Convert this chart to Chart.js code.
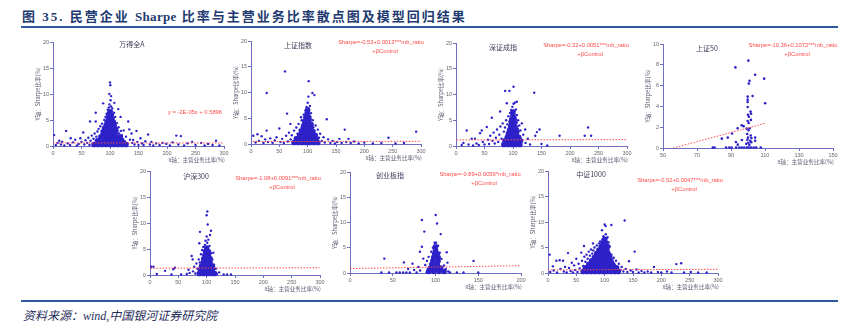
<!DOCTYPE html>
<html>
<head>
<meta charset="utf-8">
<script src="https://cdn.jsdelivr.net/npm/chart.js@4"></script>
<style>
  body { margin: 0; background: #fff; }
  #page { position: relative; width: 858px; height: 327px; overflow: hidden; background: #fff; }
  #title { position: absolute; left: 22px; top: 6px; font: bold 13px "Liberation Serif", "Noto Sans CJK SC"; letter-spacing: 2px; color: #1e3a70; white-space: nowrap; }
  #title span { letter-spacing: 0.3px; }
  .rule { position: absolute; left: 21px; width: 817px; height: 2px; background: #2e5a9c; }
  #src { position: absolute; left: 23px; top: 306px; font: italic 12px "Liberation Serif", "Noto Sans CJK SC"; color: #1f2d5a; white-space: nowrap; }
  canvas { position: absolute; }
</style>
</head>
<body>
<div id="page">
  <div id="title">图 35. 民营企业 <span>Sharpe</span> 比率与主营业务比率散点图及模型回归结果</div>
  <div class="rule" style="top:26px"></div>
  <div class="rule" style="top:300px"></div>
  <div id="src">资料来源：wind,中国银河证券研究院</div>
</div>
<script>
// 万得全A
const wdqaCore = [[72,0.3],[79,0.3],[86,0.3],[93,0.3],[100,0.3],[107,0.3],[114,0.3],[121,0.3],[128,0.3],
  [78,1.0],[85,1.0],[92,1.0],[99,1.0],[106,1.0],[113,1.0],[120,1.0],
  [84,1.7],[91,1.7],[98,1.7],[105,1.7],[112,1.7],[118,1.7],
  [88,2.4],[95,2.4],[102,2.4],[109,2.4],[90,3.1],[97,3.1],[104,3.1],[110,3.1],
  [93,3.8],[100,3.8],[107,3.8],[95,4.5],[101,4.5],[106,4.5],[97,5.2],[103,5.2],[98,5.9],[102,5.9],[100,6.6]];
const wdqaPts = [[2,2.1],[5,0.2],[8,0.6],[11,1.0],[14,0.3],[16,0.8],[20,0.1],[23,2.9],[26,0.5],[30,0.2],[31,1.5],[35,0.7],
  [39,1.2],[42,0.1],[45,0.4],[48,1.5],[50,0.8],[53,2.6],[55,0.3],[57,1.1],[60,0.6],[62,1.6],[64,0.2],[65,4.7],[66,1.0],
  [68,2.0],[70,0.5],[71,1.4],[73,2.4],[75,6.4],[75,4.7],[76,1.8],[78,2.8],[80,3.3],[82,2.0],[83,3.8],[85,2.9],[86,4.3],
  [88,8.2],[88,3.6],[90,5.0],[91,4.2],[92,5.6],[93,3.4],[94,6.2],[95,5.4],[96,7.0],[97,6.4],[98,7.4],[98.8,10.0],[99,8.0],
  [100,12.2],[100.6,11.7],[101,8.8],[102,9.6],[102,7.6],[103,6.7],[104,7.2],[105,6.0],[106,5.2],[107,6.4],[107.6,8.3],
  [108,4.8],[109,5.6],[110,4.0],[111,3.4],[112,4.4],[113,2.8],[114.5,7.1],[115,3.6],[116,2.4],[117,1.4],[118.6,5.6],
  [119,2.9],[121,2.1],[123,1.3],[124,3.0],[126,0.9],[128,1.8],[130,0.5],[132,4.7],[133.7,3.2],[135,1.2],[137.8,2.4],
  [139,0.6],[140.7,1.15],[143,0.3],[146.5,2.9],[148,0.8],[150,0.2],[153.5,1.5],[156,0.5],[159,0.2],[162,0.9],[166.9,2.2],
  [170,0.3],[172.7,0.8],[176,0.1],[181,0.5],[187,0.2],[192,0.6],[198.8,0.4],[205,0.1],[210,0.7],[216.3,2.0],[220,0.3],
  [224.4,1.9],[230,0.1],[236,0.5],[244,0.8],[250,0.2],[259.9,0.6],[266,0.1],[272,0.4],[280,0.2],[286,1.0],[292,0.1]];
const wdqaFit = [[0,0.5896],[298,0.5836]];

// 上证指数
const szzsCore = [[76,0.3],[83,0.3],[90,0.3],[97,0.3],[104,0.3],[111,0.3],[118,0.3],
  [80,1.0],[87,1.0],[94,1.0],[101,1.0],[108,1.0],[115,1.0],[86,1.7],[93,1.7],[100,1.7],[107,1.7],[113,1.7],
  [89,2.4],[96,2.4],[103,2.4],[109,2.4],[92,3.1],[99,3.1],[105,3.1],[94,3.8],[100,3.8],[106,3.8],
  [96,4.5],[102,4.5],[97,5.2],[102,5.2],[99,5.9],[100,6.6]];
const szzsPts = [[4,1.6],[8,0.3],[11.4,1.9],[14,0.6],[18.8,1.5],[22,0.2],[25,0.9],[27.7,2.6],[27.7,9.9],[30,0.4],[34,1.1],
  [38,0.2],[42,0.7],[45,1.3],[50,3.0],[52,0.4],[55,1.0],[58,0.2],[60,14.1],[62,1.6],[63.6,5.9],[65,0.5],[67,2.2],[69.5,3.9],
  [70,0.9],[72,1.7],[74,0.3],[76,2.6],[78,1.2],[80,3.2],[82,2.0],[84,3.9],[86,2.8],[88.3,5.2],[89.5,4.6],[90,3.6],[92,4.4],
  [93,5.7],[95,4.9],[96,6.5],[97,5.5],[98,7.2],[99,6.1],[100,8.0],[101.3,9.2],[101.9,12.2],[102,6.9],[103,5.9],[104,7.4],
  [105,4.8],[106,6.0],[107,3.9],[108.4,9.9],[109,4.6],[110,3.2],[111.9,9.5],[112,2.6],[114,3.6],[116,1.8],[118,2.8],[120,1.2],
  [122,2.0],[125,0.6],[128,1.3],[130,0.3],[133.7,4.8],[136,0.9],[140,0.2],[144,0.6],[148,0.1],[152,0.4],[156,1.0],[160,0.2],
  [165.5,2.8],[168,0.4],[172,1.0],[176,0.2],[182,0.5],[190,0.1],[200,0.3],[215,0.1],[230,0.2],[242.6,1.2],[255,0.1],
  [270,0.2],[291.5,2.4]];
const szzsFit = [[3,0.48],[300,0.52]];

// 深证成指
const szczCore = [[84,0.3],[91,0.3],[98,0.3],[105,0.3],[112,0.3],[86,1.0],[93,1.0],[100,1.0],[107,1.0],[113,1.0],
  [90,1.7],[97,1.7],[104,1.7],[110,1.7],[92,2.4],[99,2.4],[106,2.4],[94,3.1],[100,3.1],[106,3.1],
  [96,3.8],[102,3.8],[97,4.5],[103,4.5],[98,5.2],[102,5.2],[100,5.9],[100,6.6]];
const szczPts = [[10,0.2],[13,0.6],[18.8,3.0],[22,0.3],[27.6,1.4],[30,0.1],[33.4,1.4],[36,0.5],[40,0.2],[42.2,2.5],[45.2,3.0],
  [47,0.8],[50,0.3],[54,3.7],[56,1.2],[58,0.4],[60,2.0],[62.8,5.5],[64,1.0],[66,2.6],[68,0.5],[70,1.6],[72,3.2],[74,0.8],
  [76,2.2],[77.4,6.7],[78,3.8],[80,1.4],[82,4.4],[84,2.8],[86.2,10.7],[86,3.6],[88,5.0],[89.1,8.3],[90,4.2],[92,5.8],
  [93.8,10.7],[94,4.8],[95,6.4],[96,5.3],[97,7.0],[98,6.0],[99,7.6],[100.9,11.5],[101,8.2],[102,6.8],[103.2,8.4],[104,5.6],
  [105,7.1],[106.7,8.6],[106,4.6],[107,6.0],[108,3.8],[109,5.0],[110,2.8],[111,4.0],[112,1.8],[113,3.0],[115.5,4.4],[116,1.0],
  [118,2.2],[121.4,3.2],[122,0.6],[126,1.4],[130,0.3],[137.2,10.35],[139,2.0],[142,2.7],[146.6,3.2],[150,0.4],[160,0.1],
  [181.8,2.0],[225.8,2.0],[231.7,3.6],[237,2.0]];
const szczFit = [[1,1.18],[300,1.24]];

// 上证50
const sz50Pts = [[100.2,8.4],[92.6,7.75],[104.2,7.05],[109.5,6.67],[100.9,6.47],[100.5,6.19],[102.7,5.0],[99.8,4.94],
  [99.8,4.65],[99.8,4.42],[110.1,4.3],[99.8,3.94],[101.5,3.5],[101.8,3.3],[100,3.2],[100.5,3.0],[99.8,2.6],[101.7,2.7],
  [100.4,2.4],[96.3,2.18],[97.4,2.1],[99.2,1.86],[101,1.9],[93.9,1.9],[100.3,1.7],[90.6,1.4],[99.5,1.35],[101.6,1.2],
  [88.1,1.0],[84.6,0.9],[100,1.0],[102,0.95],[104.2,1.0],[99.6,0.8],[101.3,0.7],[104.2,0.7],[96.4,0.77],[92.9,0.58],
  [100.2,0.5],[101.9,0.55],[99,0.4],[94,0.32],[100.8,0.3],[79.3,0.05],[80.3,0.05],[87.1,0.05],[89,0.05],[90.4,0.05],
  [93,0.05],[94.9,0.05],[96.3,0.05],[97.8,0.05],[99.4,0.05],[100.3,0.05],[101.7,0.05],[103.3,0.05],[104.8,0.05],[107.5,0.05]];
const sz50Fit = [[56,0],[110,2.37]];

// 沪深300
const hs300Core = [[87,0.3],[94,0.3],[101,0.3],[108,0.3],[114,0.3],[89,1.0],[96,1.0],[103,1.0],[110,1.0],
  [91,1.7],[98,1.7],[105,1.7],[110,1.7],[94,2.4],[100,2.4],[106,2.4],[95,3.1],[101,3.1],[106,3.1],
  [97,3.8],[103,3.8],[98,4.5],[103,4.5],[100,5.2]];
const hs300Pts = [[2,1.6],[5.9,1.6],[12,0.2],[26.5,0.8],[38,0.1],[41,1.1],[44,1.4],[55,0.1],[65,0.2],[68,1.0],[70,0.4],
  [73.5,3.65],[75.3,3.0],[76,0.7],[78,1.6],[80,0.3],[82,2.2],[84,1.2],[86,3.0],[87,6.1],[88.2,8.3],[88,2.4],[90,4.0],[91,1.8],
  [92,4.8],[93,3.2],[94,5.4],[95,2.6],[96,4.6],[97,5.8],[98,6.6],[99,4.2],[100,11.5],[101.2,12.2],[101.8,9.7],[100,7.4],
  [101,6.2],[102,5.0],[103,6.8],[104,4.4],[105,5.6],[105.9,7.7],[107.6,8.5],[106,3.6],[107,2.4],[108,4.2],[109,1.4],
  [110,3.0],[111.8,4.3],[112,1.0],[113,2.0],[114,0.4],[116,1.2],[118,0.2],[122,0.5],[130,0.1],[136,0.1],[143,0.1]];
const hs300Fit = [[1,1.3],[299,1.4]];

// 创业板指
const cybzCore = [[92,0.3],[98,0.3],[104,0.3],[110,0.3],[94,1.0],[100,1.0],[106,1.0],[96,1.7],[102,1.7],
  [97,2.4],[103,2.4],[98,3.1],[103,3.1],[99,3.8],[102,3.8],[100,4.5],[100,5.2]];
const cybzPts = [[36.7,0.1],[40.2,2.85],[45.7,0.1],[54.3,0.1],[58.2,0.1],[62.2,0.1],[63,2.1],[66,0.1],[68,0.8],[70,0.1],
  [73.1,1.85],[75,0.6],[77.9,0.1],[80,1.2],[81.8,4.2],[82,0.5],[84.1,10.5],[84.1,5.2],[85.7,2.85],[86.9,8.2],[88,1.6],
  [89.6,0.1],[90,2.4],[91,0.8],[92,3.2],[93.5,0.1],[94,1.8],[95,4.2],[96,2.6],[97,5.0],[98,3.4],[99,6.0],[100.2,11.5],
  [100.6,6.0],[101.8,9.8],[101,4.8],[102,3.6],[103,5.4],[104,2.2],[105,4.0],[106.1,7.7],[106,1.0],[107,2.8],[108,0.4],
  [110,1.5],[112,0.8],[113.1,4.1],[114,2.05],[115,0.3],[117,0.1],[125,0.1],[132.8,0.1],[144.5,2.4],[150,0.1]];
const cybzFit = [[0,0.88],[200,1.45]];

// 中证1000
const zz1000Core = [[62,0.3],[69,0.3],[76,0.3],[83,0.3],[90,0.3],[97,0.3],[104,0.3],[111,0.3],[118,0.3],[124,0.3],
  [66,1.0],[73,1.0],[80,1.0],[87,1.0],[94,1.0],[101,1.0],[108,1.0],[115,1.0],[121,1.0],
  [72,1.7],[79,1.7],[86,1.7],[93,1.7],[100,1.7],[107,1.7],[114,1.7],[77,2.4],[84,2.4],[91,2.4],[98,2.4],[105,2.4],[111,2.4],
  [82,3.1],[89,3.1],[96,3.1],[103,3.1],[109,3.1],[86,3.8],[93,3.8],[100,3.8],[106,3.8],[90,4.5],[97,4.5],[104,4.5],
  [94,5.2],[100,5.2],[105,5.2],[97,5.9],[102,5.9],[100,6.6]];
const zz1000Pts = [[2.9,3.6],[4,0.2],[8.8,1.3],[10,0.5],[14.7,2.4],[16,0.1],[20.6,2.5],[22,0.8],[26.5,2.4],[28,0.3],[30,1.2],
  [33,0.1],[35.3,3.9],[37,1.0],[40,0.4],[42,2.0],[44,0.1],[46,1.5],[48,0.6],[50,2.8],[52,0.2],[54,1.8],[56,0.9],[58.8,4.0],
  [60,2.4],[62,1.4],[63.5,5.3],[64,3.2],[66,2.2],[68,3.6],[70,2.8],[72,4.2],[74,3.4],[76,4.6],[78,3.8],[79.4,5.8],[80,4.4],
  [82,5.0],[84,3.9],[86,5.4],[88,4.6],[90,5.8],[92,6.2],[94,5.0],[95.3,8.4],[96,6.6],[98,7.2],[99,6.0],[100,9.5],[101.8,9.2],
  [102,7.6],[103,6.8],[104,5.6],[105,7.0],[106,4.8],[107,6.0],[108,3.8],[109,5.2],[110,2.8],[111.8,9.4],[112,3.6],[114,2.2],
  [116,3.0],[118,1.6],[120,2.4],[122,1.0],[125,1.8],[128,0.6],[130,1.2],[133,0.3],[135.3,10.3],[137,0.8],[140,0.2],[143,2.3],
  [146,0.5],[150,0.2],[153,4.2],[156,0.7],[160,0.1],[165,0.4],[170,0.1],[176,0.3],[182,0.1],[187,1.2],[194,0.2],[200,0.1],
  [210,0.3],[218,0.1],[226.5,1.75],[235,1.9],[240,0.1],[252,0.2],[265,0.1],[280,0.1]];
const zz1000Fit = [[0,0.6],[300,0.72]];

const POINT = '#2d22c8';
const AXIS = '#6f6fc2';
const FIT = '#ff4a4a';
const Y_TITLE = 'Y轴：Sharpe比率(%)';
const X_TITLE = 'x轴：主营业务比率(%)';

Chart.defaults.font.family = '"Liberation Sans", Arial, sans-serif';

// titles, equations and axis names, placed relative to the plot area
const panelText = {
  id: 'panelText',
  afterDraw(chart, args, o) {
    const { ctx, chartArea: a } = chart;
    ctx.save();
    ctx.textAlign = 'center';
    ctx.textBaseline = 'middle';
    ctx.fillStyle = '#3c3c58';
    ctx.font = '7px "Noto Sans CJK SC"';
    ctx.fillText(o.title, a.left + o.tx, a.top + o.ty);
    ctx.fillStyle = FIT;
    ctx.font = '5.8px "Liberation Sans"';
    o.eq.forEach((s, i) => ctx.fillText(s, a.left + o.ex + (i ? 4 : 0), a.top + o.ey + i * 9));
    ctx.fillStyle = '#5a5a70';
    ctx.font = '5.6px "Noto Sans CJK SC"';
    ctx.textAlign = 'right';
    ctx.fillText(X_TITLE, a.right + 1, a.bottom + 13.5);
    ctx.translate(a.left - 15, (a.top + a.bottom) / 2);
    ctx.rotate(-Math.PI / 2);
    ctx.textAlign = 'center';
    ctx.fillText(Y_TITLE, 0, 0);
    ctx.restore();
  }
};

function axis(min, max, step, fit) {
  return {
    type: 'linear', min, max,
    ticks: { stepSize: step, color: '#666', font: { size: 5.5 }, padding: 1, maxRotation: 0, autoSkip: false },
    grid: { drawOnChartArea: false, tickLength: 3, color: AXIS },
    border: { color: AXIS, width: 1 },
    afterFit: fit
  };
}

const pts = arr => arr.map(([x, y]) => ({ x, y }));

function addPanel(p) {
  const [L, R, T, B] = p.box;
  const c = document.createElement('canvas');
  c.width = R - L + 54;
  c.height = B - T + 34;
  c.style.left = (L - 40) + 'px';
  c.style.top = (T - 12) + 'px';
  document.getElementById('page').appendChild(c);

  const datasets = [
    { type: 'line', data: pts(p.fit), borderColor: FIT, borderWidth: 1, borderDash: [1.5, 1.5], pointRadius: 0, order: 0 },
    { type: 'scatter', data: pts(p.pts), backgroundColor: POINT, borderWidth: 0, pointRadius: p.r || 1.2, order: 1, clip: 4 }
  ];
  if (p.core) {
    datasets.push({ type: 'scatter', data: pts(p.core), backgroundColor: POINT, borderWidth: 0, pointRadius: 2.8, order: 2, clip: 4 });
  }

  new Chart(c, {
    type: 'scatter',
    data: { datasets },
    options: {
      responsive: false,
      animation: false,
      events: [],
      layout: { padding: { left: 0, top: 12, right: 14, bottom: 0 } },
      scales: {
        x: axis(p.x[0], p.x[1], p.x[2], s => { s.height = 22; }),
        y: axis(p.y[0], p.y[1], p.y[2], s => { s.width = 40; })
      },
      plugins: {
        legend: { display: false },
        tooltip: { enabled: false },
        panelText: { title: p.title, tx: p.t[0], ty: p.t[1], eq: p.eq, ex: p.e[0], ey: p.e[1] }
      }
    },
    plugins: [panelText]
  });
}

const panels = [
  { title: '万得全A', box: [53, 224, 42, 146], x: [0, 300, 50], y: [0, 20, 5], core: wdqaCore, pts: wdqaPts, fit: wdqaFit,
    t: [79, 2], eq: ['y = -2E-05x + 0.5896'], e: [142, 70] },
  { title: '上证指数', box: [251, 421, 41, 144], x: [0, 300, 50], y: [0, 20, 5], core: szzsCore, pts: szzsPts, fit: szzsFit,
    t: [47, 4], eq: ['Sharpe=-0.53+0.0013***mb_ratio', '+βControl'], e: [130, 1] },
  { title: '深证成指', box: [456, 627, 43, 146], x: [0, 300, 50], y: [0, 20, 5], core: szczCore, pts: szczPts, fit: szczFit,
    t: [47, 4], eq: ['Sharpe=-0.32+0.0051***mb_ratio', '+βControl'], e: [130, 2] },
  { title: '上证50', box: [663, 833, 44, 148], x: [50, 150, 20], y: [0, 10, 2], pts: sz50Pts, fit: sz50Fit, r: 1.3,
    t: [44, 4], eq: ['Sharpe=-10.36+0.1072***mb_ratio', '+βControl'], e: [130, 1] },
  { title: '沪深300', box: [150, 320, 171, 275], x: [0, 300, 50], y: [0, 20, 5], core: hs300Core, pts: hs300Pts, fit: hs300Fit,
    t: [46, 5], eq: ['Sharpe=-1.08+0.0091***mb_ratio', '+βControl'], e: [128, 7] },
  { title: '创业板指', box: [350, 521, 172, 273], x: [0, 200, 50], y: [0, 20, 5], core: cybzCore, pts: cybzPts, fit: cybzFit,
    t: [40, 3], eq: ['Sharpe=-0.89+0.0059*mb_ratio', '+βControl'], e: [130, 2] },
  { title: '中证1000', box: [548, 718, 171, 273], x: [0, 300, 50], y: [0, 20, 5], core: zz1000Core, pts: zz1000Pts, fit: zz1000Fit,
    t: [43, 3], eq: ['Sharpe=-0.52+0.0047***mb_ratio', '+βControl'], e: [132, 9] }
];

panels.forEach(addPanel);
</script>
</body>
</html>
